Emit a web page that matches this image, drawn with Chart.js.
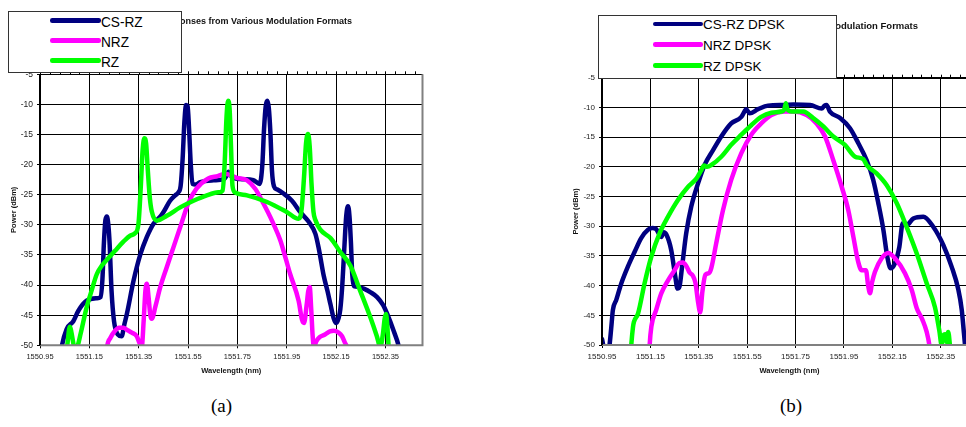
<!DOCTYPE html>
<html>
<head>
<meta charset="utf-8">
<script src="https://cdn.jsdelivr.net/npm/chart.js@4.4.0/dist/chart.umd.min.js"></script>
<style>
  html, body { margin: 0; padding: 0; background: #fff; }
  body { width: 966px; height: 427px; overflow: hidden; position: relative; font-family: "Liberation Sans", Arial, sans-serif; }
  canvas { position: absolute; top: 0; }
  #chartA { left: 0; }
  #chartB { left: 562px; }
  .legend { position: absolute; background: #fff; border: 1px solid #333; box-sizing: border-box; }
  .swatch { position: absolute; height: 4.5px; border-radius: 2.25px; }
  .label { position: absolute; white-space: nowrap; color: #000; transform-origin: left center; }
  .caption { position: absolute; font-family: "Liberation Serif", "Times New Roman", serif; font-size: 19px; line-height: 19px; color: #000; }
</style>
</head>
<body>
<canvas id="chartA" width="440" height="390"></canvas>
<canvas id="chartB" width="432" height="390"></canvas>
<div id="legendA" class="legend" style="left:8px;top:11px;width:174px;height:62px;"></div>
<div id="legendB" class="legend" style="left:598px;top:15px;width:239px;height:64px;"></div>
<div class="caption" style="left:211px;top:396px;">(a)</div>
<div class="caption" style="left:780px;top:396px;">(b)</div>
<script>
// ===============================
// DATA
// ===============================
const xTicks = [1550.95, 1551.15, 1551.35, 1551.55, 1551.75, 1551.95, 1552.15, 1552.35];
const yTicks = [-50, -45, -40, -35, -30, -25, -20, -15, -10, -5];

const namesA = ["CS-RZ", "NRZ", "RZ"];
const namesB = ["CS-RZ DPSK", "NRZ DPSK", "RZ DPSK"];
const colors = ["#000080", "#ff00ff", "#00ff00"];

// (a) CS-RZ
const csrzWlA = [1551.032, 1551.038, 1551.058, 1551.085, 1551.105, 1551.139, 1551.180, 1551.195, 1551.203, 1551.209,
  1551.215, 1551.221, 1551.227, 1551.232, 1551.240, 1551.250, 1551.265, 1551.281, 1551.292, 1551.302,
  1551.329, 1551.356, 1551.383, 1551.410, 1551.436, 1551.450, 1551.477, 1551.498, 1551.511, 1551.520,
  1551.528, 1551.535, 1551.542, 1551.548, 1551.554, 1551.561, 1551.568, 1551.580, 1551.599, 1551.653,
  1551.695, 1551.707, 1551.714, 1551.722, 1551.734, 1551.761, 1551.815, 1551.840, 1551.851, 1551.858,
  1551.865, 1551.871, 1551.877, 1551.884, 1551.890, 1551.898, 1551.910, 1551.937, 1551.971, 1552.005,
  1552.039, 1552.066, 1552.080, 1552.100, 1552.115, 1552.127, 1552.140, 1552.150, 1552.160, 1552.167,
  1552.175, 1552.183, 1552.191, 1552.198, 1552.204, 1552.210, 1552.215, 1552.222, 1552.240, 1552.262,
  1552.290, 1552.316, 1552.340, 1552.357, 1552.383, 1552.404, 1552.412];
const csrzDbmA = [-52, -50.2, -47.3, -46.0, -44.3, -42.6, -42.2, -42.0, -39.0, -33.0,
  -29.2, -28.6, -30.0, -33.0, -41.0, -46.0, -48.2, -48.5, -46.5, -44.8,
  -39.3, -35.0, -32.0, -29.8, -28.7, -27.9, -26.0, -25.1, -24.6, -23.5,
  -19.0, -13.0, -10.1, -10.3, -14.0, -20.0, -23.2, -23.3, -22.9, -22.6,
  -22.4, -21.8, -21.2, -21.8, -22.2, -22.4, -22.6, -23.2, -20.0, -14.0,
  -10.2, -9.4, -10.5, -15.0, -21.0, -23.6, -24.1, -24.8, -26.0, -27.9,
  -29.5, -31.5, -34.0, -38.5, -41.0, -43.2, -45.5, -46.3, -45.5, -44.0,
  -40.0, -34.0, -28.5, -26.9, -28.5, -33.0, -38.0, -40.2, -40.3, -40.6,
  -41.2, -42.0, -43.3, -44.8, -47.6, -50.2, -52];

// (a) NRZ
const nrzWlA = [1551.218, 1551.222, 1551.235, 1551.254, 1551.270, 1551.288, 1551.305, 1551.322, 1551.342, 1551.352,
  1551.362, 1551.370, 1551.377, 1551.383, 1551.390, 1551.397, 1551.403, 1551.418, 1551.437, 1551.464,
  1551.491, 1551.523, 1551.550, 1551.584, 1551.632, 1551.670, 1551.700, 1551.748, 1551.789, 1551.822,
  1551.856, 1551.890, 1551.924, 1551.945, 1551.964, 1551.998, 1552.012, 1552.020, 1552.030, 1552.037,
  1552.043, 1552.049, 1552.055, 1552.060, 1552.070, 1552.085, 1552.105, 1552.125, 1552.140, 1552.160,
  1552.174, 1552.186, 1552.194, 1552.200];
const nrzDbmA = [-52, -50.2, -48.8, -47.6, -47.1, -47.1, -47.5, -47.9, -48.5, -49.5,
  -50.4, -46.0, -41.0, -39.8, -42.0, -45.0, -45.6, -43.5, -40.4, -37.0,
  -33.7, -29.8, -26.5, -24.0, -22.3, -21.9, -21.5, -22.2, -22.6, -24.0,
  -26.5, -29.3, -32.6, -35.5, -38.2, -42.6, -45.8, -46.3, -43.5, -41.0,
  -40.3, -44.0, -48.5, -50.3, -49.3, -48.6, -48.2, -47.7, -47.6, -47.9,
  -48.5, -49.6, -50.3, -52];

// (a) RZ
const rzWlA = [1551.055, 1551.062, 1551.068, 1551.072, 1551.078, 1551.088, 1551.094, 1551.100, 1551.115, 1551.139,
  1551.160, 1551.180, 1551.200, 1551.221, 1551.254, 1551.288, 1551.315, 1551.335, 1551.349, 1551.358,
  1551.366, 1551.373, 1551.380, 1551.387, 1551.395, 1551.403, 1551.423, 1551.464, 1551.518, 1551.572,
  1551.626, 1551.673, 1551.690, 1551.698, 1551.706, 1551.712, 1551.718, 1551.724, 1551.730, 1551.740,
  1551.789, 1551.870, 1551.951, 1551.998, 1552.010, 1552.020, 1552.028, 1552.036, 1552.043, 1552.050,
  1552.058, 1552.066, 1552.086, 1552.127, 1552.167, 1552.208, 1552.248, 1552.289, 1552.315, 1552.329,
  1552.340, 1552.347, 1552.352, 1552.357, 1552.363, 1552.370];
const rzDbmA = [-52, -49.5, -47.3, -46.9, -48.0, -50.3, -51.0, -50.5, -48.0, -43.7,
  -40.8, -38.2, -36.8, -35.8, -34.3, -32.8, -31.8, -31.4, -29.8, -24.0,
  -17.5, -15.6, -16.5, -21.0, -25.5, -27.8, -29.3, -28.5, -27.1, -26.0,
  -25.1, -24.6, -24.3, -20.0, -12.0, -9.4, -10.5, -17.0, -23.5, -24.6,
  -25.1, -26.2, -27.9, -29.0, -27.5, -22.0, -16.5, -14.9, -17.0, -23.0,
  -27.8, -29.2, -30.8, -32.2, -34.5, -36.8, -41.0, -45.4, -48.5, -50.3,
  -48.0, -45.5, -44.8, -46.5, -50.3, -52];

// (b) CS-RZ DPSK
const csrzWlB = [1550.950, 1550.958, 1550.970, 1550.980, 1550.988, 1550.995, 1551.009, 1551.030, 1551.057, 1551.085,
  1551.112, 1551.140, 1551.160, 1551.174, 1551.188, 1551.195, 1551.205, 1551.216, 1551.236, 1551.253,
  1551.262, 1551.270, 1551.281, 1551.298, 1551.319, 1551.347, 1551.374, 1551.409, 1551.443, 1551.484,
  1551.526, 1551.540, 1551.546, 1551.560, 1551.595, 1551.636, 1551.705, 1551.741, 1551.810, 1551.858,
  1551.870, 1551.878, 1551.892, 1551.934, 1551.975, 1552.009, 1552.044, 1552.071, 1552.092, 1552.113,
  1552.129, 1552.143, 1552.161, 1552.179, 1552.193, 1552.209, 1552.237, 1552.278, 1552.319, 1552.361,
  1552.395, 1552.423, 1552.437, 1552.446, 1552.455];
const csrzDbmB = [-49.0, -50.5, -51.0, -50.3, -47.2, -44.1, -42.4, -39.6, -36.8, -34.3,
  -32.0, -30.6, -30.3, -30.5, -31.5, -31.8, -31.0, -31.4, -34.0, -38.5,
  -40.5, -40.2, -36.8, -31.2, -26.7, -22.8, -19.7, -17.2, -14.9, -12.7,
  -11.6, -10.6, -10.3, -11.0, -10.3, -9.7, -9.6, -9.5, -9.6, -10.2,
  -9.7, -9.6, -10.7, -11.8, -13.5, -16.0, -18.9, -22.2, -26.1, -30.6,
  -35.1, -37.1, -36.2, -33.5, -29.5, -29.8, -28.7, -28.4, -30.1, -33.2,
  -36.8, -40.7, -44.1, -48.0, -52];

// (b) NRZ DPSK
const nrzWlB = [1551.145, 1551.147, 1551.154, 1551.174, 1551.195, 1551.223, 1551.250, 1551.270, 1551.285, 1551.300,
  1551.312, 1551.325, 1551.336, 1551.348, 1551.356, 1551.365, 1551.377, 1551.392, 1551.402, 1551.422,
  1551.450, 1551.484, 1551.526, 1551.567, 1551.608, 1551.650, 1551.705, 1551.741, 1551.796, 1551.837,
  1551.872, 1551.906, 1551.941, 1551.968, 1551.989, 1552.009, 1552.023, 1552.041, 1552.050, 1552.058,
  1552.066, 1552.078, 1552.106, 1552.133, 1552.161, 1552.202, 1552.230, 1552.251, 1552.275, 1552.292,
  1552.303, 1552.308];
const nrzDbmB = [-52, -50.0, -46.9, -44.1, -41.3, -39.1, -37.4, -36.2, -36.1, -36.8,
  -37.8, -38.3, -39.5, -43.0, -44.5, -41.0, -38.2, -37.9, -37.0, -32.9,
  -27.3, -22.2, -17.7, -14.6, -12.7, -11.3, -10.7, -10.7, -11.3, -12.7,
  -14.9, -18.9, -23.4, -27.3, -31.8, -36.0, -37.4, -37.4, -40.0, -41.3,
  -39.5, -37.7, -35.4, -34.5, -35.4, -37.9, -40.7, -43.8, -45.8, -47.8,
  -50.0, -52];

// (b) RZ DPSK
const rzWlB = [1551.068, 1551.071, 1551.078, 1551.082, 1551.099, 1551.126, 1551.154, 1551.188, 1551.223, 1551.264,
  1551.305, 1551.340, 1551.360, 1551.372, 1551.385, 1551.402, 1551.443, 1551.484, 1551.526, 1551.567,
  1551.608, 1551.650, 1551.691, 1551.703, 1551.710, 1551.716, 1551.734, 1551.782, 1551.823, 1551.865,
  1551.906, 1551.954, 1551.996, 1552.030, 1552.044, 1552.085, 1552.127, 1552.168, 1552.209, 1552.251,
  1552.292, 1552.326, 1552.344, 1552.354, 1552.360, 1552.368, 1552.374, 1552.381, 1552.388, 1552.392];
const rzDbmB = [-52, -50.0, -47.0, -46.1, -44.7, -39.6, -35.1, -31.2, -28.4, -25.6,
  -23.4, -22.0, -20.6, -19.8, -20.0, -19.7, -18.3, -16.3, -14.6, -13.0,
  -11.6, -10.9, -10.7, -10.4, -9.3, -10.3, -10.7, -10.7, -11.8, -13.2,
  -14.9, -16.3, -18.3, -18.7, -19.7, -21.1, -23.1, -26.1, -30.1, -34.6,
  -39.6, -43.6, -47.5, -50.0, -48.5, -48.2, -49.5, -47.8, -50.0, -52];

const titleText = "Spectral Responses from Various Modulation Formats";

// ===============================
// PLUGINS
// ===============================
const framePlugin = {
  id: "frame",
  afterDatasetsDraw(chart) {
    const { ctx, chartArea: a, scales: { x } } = chart;
    ctx.save();
    ctx.strokeStyle = "#000";
    ctx.lineWidth = 1;
    // small ticks along the top edge
    ctx.beginPath();
    for (let v = x.min; v <= x.max + 1e-9; v += 0.04) {
      const px = Math.round(x.getPixelForValue(v)) + 0.5;
      ctx.moveTo(px, a.top - 3);
      ctx.lineTo(px, a.top);
    }
    ctx.moveTo(a.left, Math.round(a.top) + 0.5);
    ctx.lineTo(a.right, Math.round(a.top) + 0.5);
    ctx.stroke();
    // gray right + bottom border
    ctx.strokeStyle = "#808080";
    ctx.lineWidth = 2;
    ctx.beginPath();
    ctx.moveTo(a.left, a.bottom);
    ctx.lineTo(a.right, a.bottom);
    ctx.lineTo(a.right, a.top);
    ctx.stroke();
    // black value axis
    ctx.strokeStyle = "#000";
    ctx.lineWidth = 2;
    ctx.beginPath();
    ctx.moveTo(a.left, a.top);
    ctx.lineTo(a.left, a.bottom);
    ctx.stroke();
    ctx.restore();
  }
};

const figTitlePlugin = {
  id: "figTitle",
  afterDraw(chart, args, opts) {
    const { ctx } = chart;
    ctx.save();
    ctx.font = "bold " + opts.size + "px 'Liberation Sans', Arial, sans-serif";
    ctx.fillStyle = "#111";
    ctx.textAlign = "right";
    ctx.textBaseline = "middle";
    ctx.fillText(opts.text, opts.x, opts.y);
    ctx.restore();
  }
};

// ===============================
// CHART BUILDER
// ===============================
function buildChart(canvas, cfg) {
  const datasets = cfg.series.map((s, i) => ({
    label: s.name,
    data: s.wl.map((w, k) => ({ x: w, y: s.dbm[k] })),
    showLine: true,
    borderColor: colors[i],
    backgroundColor: colors[i],
    borderWidth: 4.5,
    pointRadius: 0,
    borderCapStyle: "round",
    borderJoinStyle: "round",
    cubicInterpolationMode: "monotone",
    order: 3 - i
  }));

  return new Chart(canvas.getContext("2d"), {
    type: "scatter",
    data: { datasets },
    options: {
      responsive: false,
      animation: false,
      layout: { padding: cfg.padding },
      plugins: {
        legend: { display: false },
        tooltip: { enabled: false },
        figTitle: cfg.title
      },
      scales: {
        x: {
          type: "linear",
          min: 1550.95,
          max: 1552.5,
          afterBuildTicks: s => { s.ticks = xTicks.map(v => ({ value: v })); },
          afterFit: s => { s.height = 30; },
          ticks: {
            autoSkip: false,
            maxRotation: 0,
            padding: 4,
            color: "#222",
            font: { size: cfg.xTickSize },
            callback: v => Number(v).toFixed(2)
          },
          grid: { color: "#000", lineWidth: 1, tickLength: 3 },
          border: { display: false },
          title: {
            display: true,
            text: "Wavelength (nm)",
            color: "#111",
            font: { size: 7.5, weight: "bold" },
            padding: { top: 0, bottom: 0 }
          }
        },
        y: {
          type: "linear",
          min: -50,
          max: -5,
          afterBuildTicks: s => { s.ticks = yTicks.map(v => ({ value: v })); },
          afterFit: s => { s.width = 40; },
          ticks: {
            padding: 4,
            color: "#222",
            font: { size: cfg.yTickSize },
            callback: v => String(v)
          },
          grid: { color: "#000", lineWidth: 1, tickLength: 3 },
          border: { display: false },
          title: {
            display: true,
            text: "Power (dBm)",
            color: "#111",
            font: { size: 7.5, weight: "bold" },
            padding: { top: cfg.yTitlePad, bottom: 0 }
          }
        }
      }
    },
    plugins: [framePlugin, figTitlePlugin]
  });
}

// ===============================
// HTML LEGENDS
// ===============================
function buildLegend(box, cfg) {
  const r = box.getBoundingClientRect();
  cfg.names.forEach((name, i) => {
    const sw = document.createElement("div");
    sw.className = "swatch";
    sw.style.background = colors[i];
    sw.style.left = (cfg.lineX0 - r.left) + "px";
    sw.style.width = (cfg.lineX1 - cfg.lineX0) + "px";
    sw.style.top = (cfg.rows[i] - 2 - r.top - 1) + "px";
    box.appendChild(sw);

    const lb = document.createElement("div");
    lb.className = "label";
    lb.textContent = name;
    lb.style.fontSize = cfg.size + "px";
    lb.style.lineHeight = cfg.size + "px";
    lb.style.left = (cfg.textX - r.left - 1) + "px";
    lb.style.top = (cfg.rows[i] + cfg.textDy - cfg.size / 2 - r.top - 1) + "px";
    if (cfg.squeeze) lb.style.transform = "scaleX(" + cfg.squeeze + ")";
    box.appendChild(lb);
  });
}

Chart.defaults.font.family = "'Liberation Sans', Arial, sans-serif";

buildChart(document.getElementById("chartA"), {
  series: [
    { name: namesA[0], wl: csrzWlA, dbm: csrzDbmA },
    { name: namesA[1], wl: nrzWlA, dbm: nrzDbmA },
    { name: namesA[2], wl: rzWlA, dbm: rzDbmA }
  ],
  padding: { left: 0, top: 74.3, right: 17.5, bottom: 14.7 },
  xTickSize: 7.5,
  yTickSize: 8.5,
  yTitlePad: 9,
  title: { text: titleText, x: 352, y: 22, size: 9 }
});

buildChart(document.getElementById("chartB"), {
  series: [
    { name: namesB[0], wl: csrzWlB, dbm: csrzDbmB },
    { name: namesB[1], wl: nrzWlB, dbm: nrzDbmB },
    { name: namesB[2], wl: rzWlB, dbm: rzDbmB }
  ],
  padding: { left: 0, top: 77.7, right: 17, bottom: 15 },
  xTickSize: 8,
  yTickSize: 8,
  yTitlePad: 9.5,
  title: { text: titleText, x: 356, y: 26, size: 9.5 }
});

buildLegend(document.getElementById("legendA"), {
  names: namesA, rows: [20, 40, 60], lineX0: 49, lineX1: 100, textX: 101,
  size: 15, textDy: 1.3, squeeze: 0.91
});
buildLegend(document.getElementById("legendB"), {
  names: namesB, rows: [23.5, 44, 65.3], lineX0: 652, lineX1: 702, textX: 703,
  size: 13.5, textDy: 1.3
});
</script>
</body>
</html>
